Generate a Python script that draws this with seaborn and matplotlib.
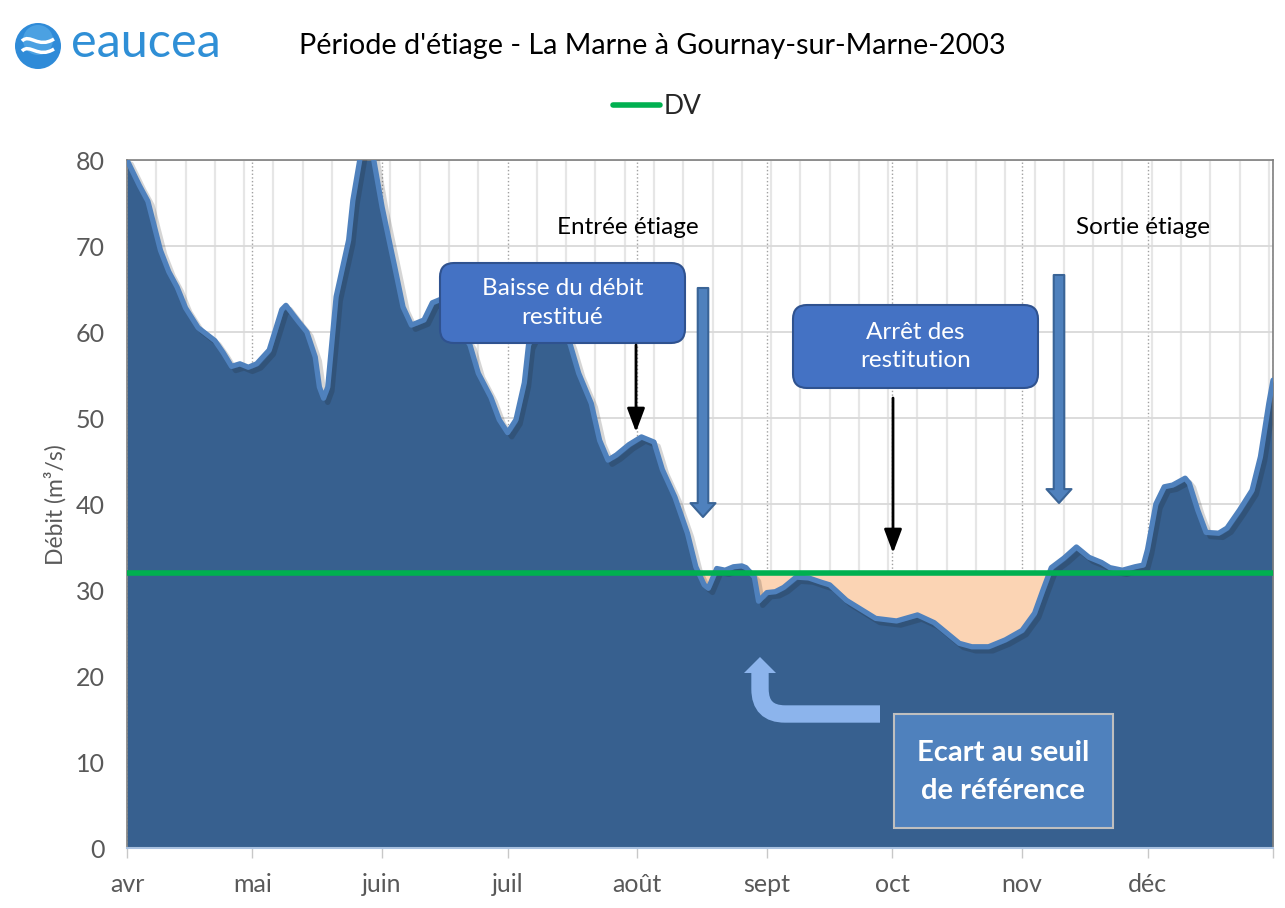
import pandas as pd
import matplotlib
matplotlib.use("Agg")
import matplotlib.pyplot as plt
import matplotlib.patheffects as pe
from matplotlib.patches import FancyBboxPatch, FancyArrowPatch, Rectangle, Circle, Polygon, PathPatch
from matplotlib.path import Path
import seaborn as sns

# Débit journalier de la Marne (jours comptés depuis le 1er avril 2003)
jours = [0, 3, 5, 8, 10, 12, 14, 17, 21, 23, 25, 27, 29, 31, 34, 37, 38, 41, 43, 45,
         46, 47, 48, 50, 53, 54, 56, 57, 58, 59, 61, 64, 66, 68, 71, 73, 75, 78, 82, 84,
         87, 89, 91, 93, 95, 96, 99, 101, 104, 106, 108, 111, 113, 115, 117, 120, 123, 126, 128, 131,
         134, 136, 138, 139, 141, 143, 145, 147, 148, 150, 151, 153, 155, 157, 160, 163, 166, 168, 172, 177,
         179, 184, 189, 193, 196, 199, 202, 206, 210, 214, 217, 219, 221, 224, 227, 230, 233, 235, 237, 238,
         241, 243, 244, 246, 248, 250, 253, 254, 256, 258, 261, 263, 266, 269, 271, 273, 274]
debit = [80.0, 77.0, 75.2, 69.5, 67.0, 65.2, 62.8, 60.5, 59.0, 57.6, 56.0, 56.3, 55.9, 56.3, 57.9, 62.6, 63.1, 61.2, 60.0, 57.1,
         53.6, 52.3, 53.6, 64.1, 70.7, 75.3, 81.0, 85.0, 84.0, 80.0, 74.5, 67.6, 62.9, 60.8, 61.4, 63.4, 63.8, 61.5, 58.5, 55.2,
         52.4, 49.8, 48.3, 49.8, 54.1, 58.5, 61.5, 62.0, 61.0, 58.5, 55.2, 51.7, 47.4, 45.1, 45.7, 46.9, 47.8, 47.2, 44.0, 40.8,
         36.6, 32.7, 30.6, 30.2, 32.5, 32.3, 32.7, 32.8, 32.6, 31.5, 28.7, 29.7, 29.8, 30.3, 31.5, 31.4, 30.9, 30.6, 28.8, 27.3,
         26.7, 26.4, 27.1, 26.2, 25.0, 23.8, 23.4, 23.4, 24.2, 25.3, 27.3, 30.0, 32.6, 33.7, 35.0, 33.8, 33.2, 32.6, 32.4, 32.3,
         32.7, 32.9, 34.7, 40.0, 42.0, 42.2, 43.0, 42.4, 39.3, 36.7, 36.6, 37.2, 39.3, 41.6, 45.5, 51.7, 54.4]
seuil_dv = 32
mois = ['avr', 'mai', 'juin', 'juil', 'août', 'sept', 'oct', 'nov', 'déc', '']
debuts_mois = ['2003-04-01', '2003-05-01', '2003-06-01', '2003-07-01', '2003-08-01',
               '2003-09-01', '2003-10-01', '2003-11-01', '2003-12-01', '2003-12-31']

sns.set_theme(style='white')
plt.rcParams['font.family'] = ['Lato', 'DejaVu Sans']

df = pd.DataFrame({'date': pd.Timestamp('2003-04-01') + pd.to_timedelta(jours, unit='D'),
                   'debit': debit})
df['DV'] = seuil_dv

W, H = 1285, 908
fig = plt.figure(figsize=(W / 100, H / 100), dpi=100)
ax = fig.add_axes([127 / W, 60 / H, 1146 / W, 688 / H])

bleu_fonce = '#37608f'
bleu_ligne = '#4f81bd'

# zones
ax.fill_between(df['date'], 0, df['debit'], color=bleu_fonce, lw=0, zorder=2)
ax.fill_between(df['date'], df['debit'], seuil_dv, where=df['debit'] < seuil_dv,
                interpolate=True, color='#fbd4b4', lw=0, zorder=2)
sns.lineplot(data=df, x='date', y='debit', color=bleu_ligne, lw=3.8, ax=ax, zorder=3,
             path_effects=[pe.SimpleLineShadow(offset=(3, -3), alpha=0.18, shadow_color='k'), pe.Normal()])
sns.lineplot(data=df, x='date', y='DV', color='#00b050', lw=4, ax=ax, zorder=4, label='DV')

# axes
ax.set_xlim(pd.Timestamp('2003-04-01'), pd.Timestamp('2003-12-31'))
ax.set_ylim(0, 80)
ax.set_yticks(range(0, 81, 10))
ax.set_xticks(pd.to_datetime(debuts_mois))
ax.set_xticklabels(mois)
ax.set_xticks(pd.date_range('2003-04-01', '2003-12-31', freq='7D'), minor=True)
ax.set_xlabel('')
ax.set_ylabel('')
ax.set_axisbelow(True)
ax.grid(which='minor', axis='x', color='#e6e6e6', lw=1.6)
ax.grid(which='major', axis='x', color='#a0a0a0', lw=1, ls=':')
ax.grid(which='major', axis='y', color='#d9d9d9', lw=1.3)
ax.tick_params(axis='y', length=0, pad=16, labelsize=18, labelcolor='#595959')
ax.tick_params(axis='x', which='major', length=7, width=1, color='#c8c8c8', direction='out',
               pad=11, labelsize=18, labelcolor='#595959', bottom=True)
ax.tick_params(axis='x', which='minor', length=0)
for cote in ['top', 'right', 'left']:
    ax.spines[cote].set_color('#7f7f7f')
    ax.spines[cote].set_linewidth(1.2)
ax.spines['bottom'].set_color('#a9c1e0')
ax.spines['bottom'].set_linewidth(1.5)

ax.legend(loc='center', bbox_to_anchor=(657 / W, 1 - 107 / H), bbox_transform=fig.transFigure,
          frameon=False, fontsize=19, handlelength=1.8, handletextpad=0.1)

fig.text(55 / W, 1 - 505 / H, 'Débit (m³/s)', rotation=90, ha='center', va='center',
         fontsize=16.5, color='#595959')
fig.text(652 / W, 1 - 46 / H, "Période d'étiage - La Marne à Gournay-sur-Marne-2003",
         ha='center', va='center', fontsize=20.7, color='black')

# calque d'annotations en pixels
ov = fig.add_axes([0, 0, 1, 1], zorder=5)
ov.set_xlim(0, W)
ov.set_ylim(H, 0)
ov.axis('off')
ov.patch.set_alpha(0)

# logo
ov.add_patch(Circle((38, 46), 23, fc='#2f8bd8', ec='none'))
ov.add_patch(Circle((38, 40), 15, fc='#5fb0ea', ec='none', alpha=0.6))
for dy in (-4, 6):
    vague = Path([(22, 45 + dy), (30, 37 + dy), (38, 53 + dy), (54, 43 + dy)],
                 [Path.MOVETO, Path.CURVE4, Path.CURVE4, Path.CURVE4])
    ov.add_patch(PathPatch(vague, fc='none', ec='white', lw=2.5))
ov.text(71, 43, 'eaucea', ha='left', va='center', fontsize=35, color='#2f8fd6')

ov.text(628, 227, 'Entrée étiage', ha='center', va='center', fontsize=17.5, color='black')
ov.text(1143, 227, 'Sortie étiage', ha='center', va='center', fontsize=17.5, color='black')

for (x0, y0, w, h), txt in [((440, 263, 245, 80), 'Baisse du débit\nrestitué'),
                            ((793, 305, 245, 83), 'Arrêt des\nrestitution')]:
    ov.add_patch(FancyBboxPatch((x0, y0), w, h, boxstyle='round,pad=0,rounding_size=14',
                                fc='#4472c4', ec='#2f528f', lw=1.5))
    ov.text(x0 + w / 2, y0 + h / 2, txt, ha='center', va='center', fontsize=17.5,
            color='white', linespacing=1.45)

for x, y1, y2 in [(636, 345, 432), (893, 398, 553)]:
    ov.annotate('', xy=(x, y2), xytext=(x, y1),
                arrowprops=dict(arrowstyle='-|>,head_width=0.3,head_length=0.8', color='black',
                                lw=2, mutation_scale=18, shrinkA=0, shrinkB=0))

for x, y1, y2 in [(703, 288, 517), (1059, 275, 503)]:
    ov.add_patch(FancyArrowPatch((x, y1), (x, y2),
                                 arrowstyle='simple,head_length=0.5,head_width=0.9,tail_width=0.38',
                                 mutation_scale=20, fc=bleu_ligne, ec='#3a6496', lw=1.5,
                                 shrinkA=0, shrinkB=0))

# flèche coudée
coude = Path([(880, 714), (785, 714), (760, 714), (760, 689), (760, 672)],
             [Path.MOVETO, Path.LINETO, Path.CURVE3, Path.CURVE3, Path.LINETO])
ov.add_patch(PathPatch(coude, fc='none', ec='#8cb4ec', lw=12.5, capstyle='butt'))
ov.add_patch(Polygon([(744, 673), (776, 673), (760, 657)], closed=True, fc='#8cb4ec', ec='none'))

ov.add_patch(Rectangle((894, 714), 219, 114, fc='#4f81bd', ec='#bfbfbf', lw=1.5))
ov.text(1003, 772, 'Ecart au seuil\nde référence', ha='center', va='center', fontsize=21,
        fontweight='bold', color='white', linespacing=1.55)

fig.savefig('out.png', dpi=100)
